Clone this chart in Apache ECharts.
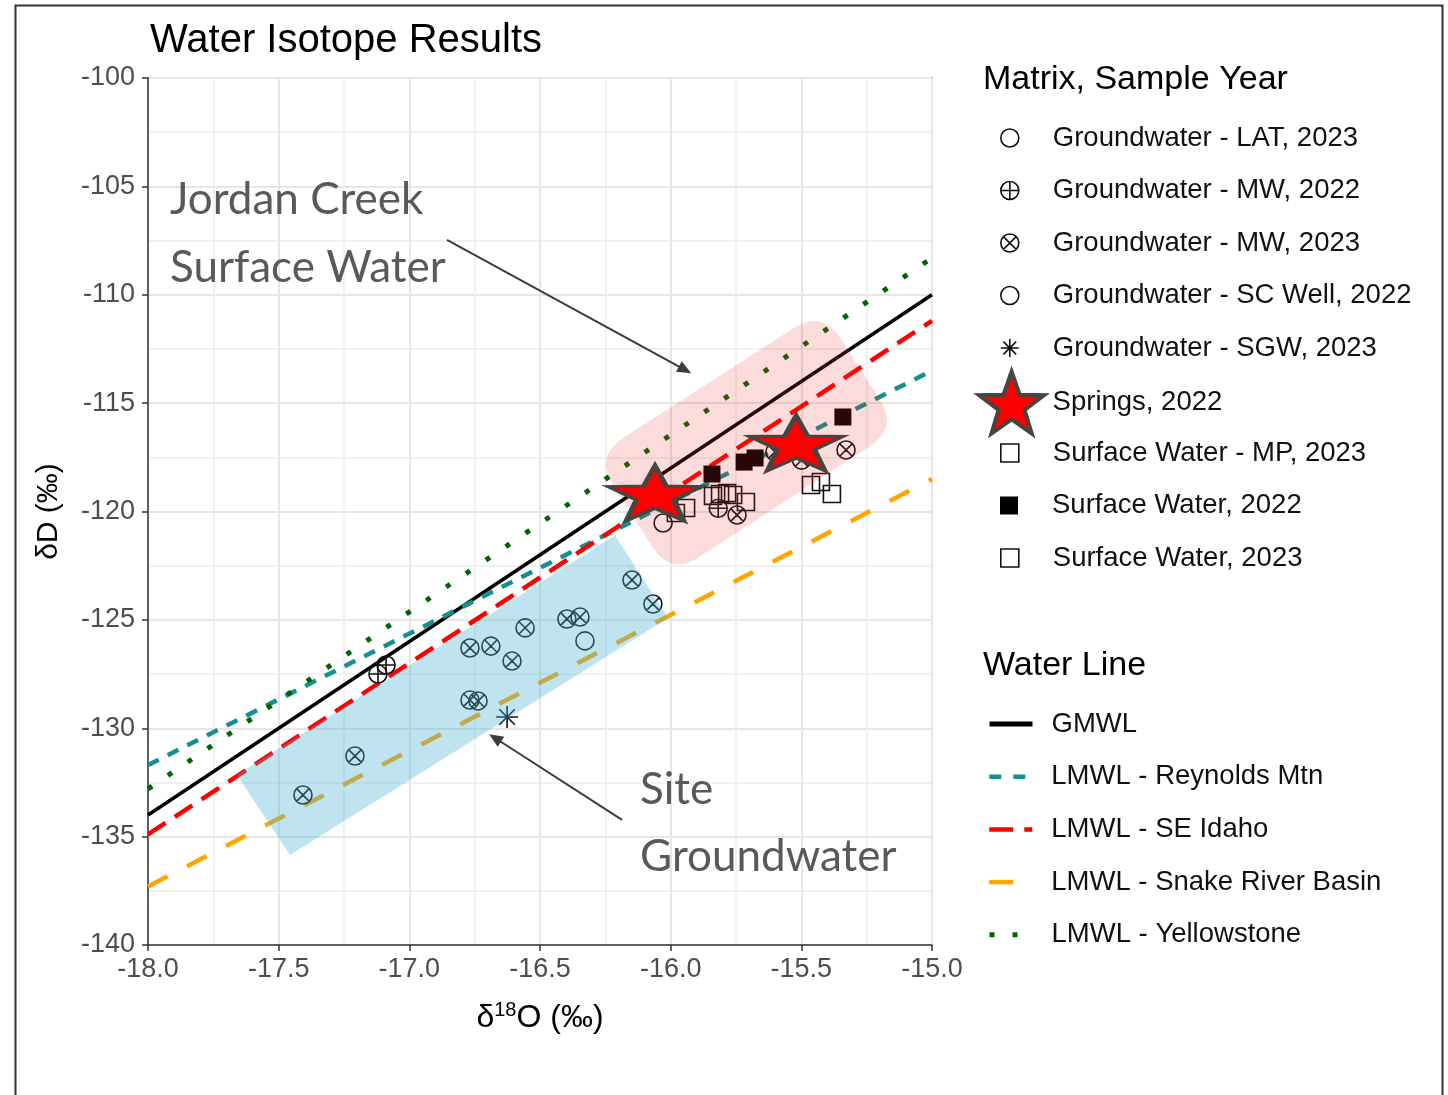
<!DOCTYPE html>
<html><head><meta charset="utf-8">
<script src="https://cdn.jsdelivr.net/npm/echarts@6/dist/echarts.min.js"></script>
<style>html,body{margin:0;padding:0;background:#fff}#c{width:1448px;height:1095px}</style>
</head><body><div id="c"></div>
<script>
// ---------------- DATA ----------------
const xEnds = [-18, -15];                 // δ18O at the ends of each water line
const gmwl        = [-134.0, -110.0];     // δD at xEnds
const reynoldsMtn = [-131.7, -113.5];
const seIdaho     = [-134.9, -111.2];
const snakeRiver  = [-137.3, -118.5];
const yellowstone = [-132.8, -108.3];

const gwLAT2023 = [[-16.328, -125.97]];
const gwMW2022  = [[-17.120, -127.50], [-17.089, -127.08], [-15.818, -119.85]];
const gwMW2023  = [[-17.407, -133.08], [-17.208, -131.28], [-16.768, -126.30], [-16.688, -126.21],
                   [-16.607, -126.90], [-16.557, -125.37], [-16.768, -128.70], [-16.737, -128.74],
                   [-16.397, -124.96], [-16.347, -124.87], [-16.148, -123.16], [-16.068, -124.27],
                   [-15.746, -120.16], [-15.329, -117.16], [-15.499, -117.63], [-15.601, -117.25]];
const gwSC2022  = [[-16.029, -120.53]];
const gwSGW2023 = [[-16.626, -129.48]];
const springs2022 = [[-16.060, -119.15], [-15.520, -116.84]];
const swMP2023  = [[-15.941, -119.84], [-15.980, -120.07], [-15.838, -119.28], [-15.811, -119.19],
                   [-15.784, -119.15], [-15.761, -119.24], [-15.712, -119.56]];
const sw2022    = [[-15.842, -118.27], [-15.719, -117.72], [-15.677, -117.53], [-15.341, -115.64]];
const sw2023    = [[-15.463, -118.78], [-15.425, -118.64], [-15.383, -119.19]];

const xTicks = [-18, -15, 0.5];
const yTicks = [-140, -100, 5];

// annotation regions and labels, in data units
const siteGWBox     = [[-17.660, -132.16], [-16.213, -121.09], [-16.010, -124.91], [-17.457, -135.85]];
const jordanCreekBox = [[-16.290, -117.45], [-15.420, -110.70], [-15.130, -116.15], [-16.000, -122.95]];
const annotationText = [
  ['Jordan Creek', -17.916, -105.63], ['Surface Water', -17.916, -108.77],
  ['Site', -16.117, -132.85], ['Groundwater', -16.117, -135.94]];
const arrows = [[[-16.856, -107.47], [-15.945, -113.47]], [[-16.186, -134.23], [-16.672, -130.45]]];

const symbolNames = ['Groundwater - LAT, 2023', 'Groundwater - MW, 2022', 'Groundwater - MW, 2023',
  'Groundwater - SC Well, 2022', 'Groundwater - SGW, 2023', 'Springs, 2022',
  'Surface Water - MP, 2023', 'Surface Water, 2022', 'Surface Water, 2023'];
const lineNames = ['GMWL', 'LMWL - Reynolds Mtn', 'LMWL - SE Idaho', 'LMWL - Snake River Basin', 'LMWL - Yellowstone'];

// ---------------- STYLE ----------------
const FONT = "'Liberation Sans', Arial, sans-serif";
const C = 'M10,0A10,10,0,1,1,10,20A10,10,0,1,1,10,0Z';
const SYM = {
  circle: 'path://' + C,
  cplus: 'path://' + C + 'M10,0L10,20M0,10L20,10',
  ccross: 'path://' + C + 'M2.93,2.93L17.07,17.07M17.07,2.93L2.93,17.07',
  square: 'path://M0,0L20,0L20,20L0,20Z',
  aster: 'path://M10,0L10,20M0,10L20,10M2.93,2.93L17.07,17.07M17.07,2.93L2.93,17.07'
};
SYM.star = (function () {
  let s = 'path://';
  for (let i = 0; i < 10; i++) {
    const r = i % 2 ? 20 : 50, a = (-90 + 36 * i) * Math.PI / 180;
    s += (i ? 'L' : 'M') + (50 + r * Math.cos(a)).toFixed(2) + ',' + (50 + r * Math.sin(a)).toFixed(2);
  }
  return s + 'Z';
})();

const hollow = { color: 'rgba(0,0,0,0)', borderColor: '#111', borderWidth: 1.6, opacity: 1 };
function pts(name, data, symbol, size, style, z) {
  return { type: 'scatter', name, data, symbol, symbolSize: size, itemStyle: Object.assign({ opacity: 1 }, style), z: z || 3,
           emphasis: { disabled: true }, silent: true };
}
function wline(name, ends, color, width, dash) {
  return { type: 'line', name, data: [[xEnds[0], ends[0]], [xEnds[1], ends[1]]], symbol: 'none', showSymbol: false, z: 2,
           itemStyle: { color, opacity: 0 },
           lineStyle: { color, width, type: dash, cap: 'butt' }, emphasis: { disabled: true }, silent: true };
}
function rounded(p, r) {
  const out = [];
  for (let i = 0; i < p.length; i++) {
    const p0 = p[(i + p.length - 1) % p.length], p1 = p[i], p2 = p[(i + 1) % p.length];
    const d0 = Math.hypot(p0[0] - p1[0], p0[1] - p1[1]), d2 = Math.hypot(p2[0] - p1[0], p2[1] - p1[1]);
    const a = [p1[0] + (p0[0] - p1[0]) * r / d0, p1[1] + (p0[1] - p1[1]) * r / d0];
    const b = [p1[0] + (p2[0] - p1[0]) * r / d2, p1[1] + (p2[1] - p1[1]) * r / d2];
    for (let k = 0; k <= 10; k++) {
      const t = k / 10, u = 1 - t;
      out.push([u * u * a[0] + 2 * u * t * p1[0] + t * t * b[0], u * u * a[1] + 2 * u * t * p1[1] + t * t * b[1]]);
    }
  }
  return out;
}
function box(corners, fill, radius) {
  return { type: 'custom', name: '', data: [corners[0]], z: 4, silent: true,
    renderItem: function (params, api) {
      const p = corners.map(c => api.coord(c));
      return { type: 'polygon', shape: { points: radius ? rounded(p, radius) : p }, style: { fill } };
    } };
}

const series = [
  wline(lineNames[0], gmwl, '#000000', 3.5, 'solid'),
  wline(lineNames[1], reynoldsMtn, '#14908e', 4.5, [12, 10]),
  wline(lineNames[2], seIdaho, '#ff0000', 4.5, [21, 11]),
  wline(lineNames[3], snakeRiver, '#ffa500', 4.5, [22, 22]),
  wline(lineNames[4], yellowstone, '#006400', 5, [5, 19]),
  pts(symbolNames[0], gwLAT2023, SYM.circle, 18, hollow),
  pts(symbolNames[1], gwMW2022, SYM.cplus, 18, hollow),
  pts(symbolNames[2], gwMW2023, SYM.ccross, 18, hollow),
  pts(symbolNames[3], gwSC2022, SYM.circle, 18, hollow),
  pts(symbolNames[4], gwSGW2023, SYM.aster, 22, hollow),
  pts(symbolNames[6], swMP2023, SYM.square, 17, hollow),
  pts(symbolNames[7], sw2022, SYM.square, 17, { color: '#000' }),
  pts(symbolNames[8], sw2023, SYM.square, 17, hollow),
  box(siteGWBox, 'rgba(80,180,210,0.36)', 0),
  box(jordanCreekBox, 'rgba(240,40,40,0.17)', 34),
  pts(symbolNames[5], springs2022, SYM.star, [93, 55], { color: '#ff0000', borderColor: '#48443f', borderWidth: 4 }, 5),
  { type: 'scatter', name: '', data: [], z: 6, silent: true,
    markLine: { silent: true, animation: false, symbol: ['none', 'triangle'], symbolSize: [12, 14],
      label: { show: false }, emphasis: { disabled: true },
      itemStyle: { color: '#3c3c3c', opacity: 1 },
      lineStyle: { color: '#3c3c3c', width: 2, type: 'solid', opacity: 1 },
      data: arrows.map(a => [{ coord: a[0] }, { coord: a[1] }]) } }
];

// legends: one per row
const legends = [];
const legendText = { fontFamily: FONT, fontSize: 27.5, color: '#111', lineHeight: 30 };
symbolNames.forEach((n, i) => {
  const y = 138 + i * 52.5;
  const star = n === 'Springs, 2022';
  const iw = star ? 72 : 76, ih = star ? 62 : 18;
  legends.push({ orient: 'vertical', left: star ? 977 : 1000, top: y - Math.max(ih, 30) / 2, padding: 0,
    itemWidth: iw, itemHeight: ih, selectedMode: false, data: [n], textStyle: legendText,
    itemStyle: { borderWidth: star ? 4 : 1.6, opacity: 1 } });
});
const lineLegendStyle = [
  { color: '#000', width: 5, type: 'solid' }, { color: '#14908e', width: 4.5, type: [12, 12] },
  { color: '#ff0000', width: 4.5, type: [24, 11] }, { color: '#ffa500', width: 4.5, type: [24, 30] },
  { color: '#006400', width: 5, type: [5, 18] }];
lineNames.forEach((n, i) => {
  const y = 724 + i * 52.7;
  legends.push({ orient: 'vertical', left: 987, top: y - 15, padding: 0, itemWidth: 43, itemHeight: 18,
    selectedMode: false, data: [n], textStyle: Object.assign({ padding: [0, 0, 0, 14] }, legendText),
    itemStyle: { opacity: 0 },
    lineStyle: Object.assign({ cap: 'butt', opacity: 1 }, lineLegendStyle[i]) });
});

const chart = echarts.init(document.getElementById('c'), null, { renderer: 'canvas' });
chart.setOption({
  animation: false,
  backgroundColor: '#fff',
  title: [
    { text: 'Water Isotope Results', left: 150, top: 21, padding: 0,
      textStyle: { fontFamily: FONT, fontSize: 40, fontWeight: 'normal', color: '#000', lineHeight: 40 } },
    { text: 'Matrix, Sample Year', left: 983, top: 63, padding: 0,
      textStyle: { fontFamily: FONT, fontSize: 34, fontWeight: 'normal', color: '#000', lineHeight: 34 } },
    { text: 'Water Line', left: 983, top: 649, padding: 0,
      textStyle: { fontFamily: FONT, fontSize: 34, fontWeight: 'normal', color: '#000', lineHeight: 34 } }
  ],
  legend: legends,
  grid: { left: 148, right: 516, top: 78, bottom: 150, show: true, borderColor: '#333', borderWidth: 1.5,
          backgroundColor: 'transparent', outerBoundsMode: 'none', containLabel: false },
  xAxis: { type: 'value', min: xTicks[0], max: xTicks[1], interval: xTicks[2],
    name: '{d|δ}{s|18}{d|O (‰)}', nameLocation: 'middle', nameGap: 55,
    nameTextStyle: { fontFamily: FONT, color: '#000', fontSize: 32,
      rich: { d: { fontFamily: FONT, fontSize: 32, color: '#000' },
              s: { fontFamily: FONT, fontSize: 20, color: '#000', padding: [0, 0, 16, 0] } } },
    axisLine: { show: true, onZero: false, lineStyle: { color: '#333', width: 1.5 } },
    axisTick: { show: true, length: 6, lineStyle: { color: '#333', width: 1.5 } },
    axisLabel: { fontFamily: FONT, fontSize: 27, color: '#4d4d4d', margin: 11, formatter: v => v.toFixed(1) },
    splitLine: { show: true, lineStyle: { color: '#e6e6e6', width: 2 } },
    minorTick: { show: false, splitNumber: 2 },
    minorSplitLine: { show: true, lineStyle: { color: '#ededed', width: 1.5 } } },
  yAxis: { type: 'value', min: yTicks[0], max: yTicks[1], interval: yTicks[2],
    name: 'δD (‰)', nameLocation: 'middle', nameGap: 84,
    nameTextStyle: { fontFamily: FONT, color: '#000', fontSize: 30 },
    axisLine: { show: true, onZero: false, lineStyle: { color: '#333', width: 1.5 } },
    axisTick: { show: true, length: 6, lineStyle: { color: '#333', width: 1.5 } },
    axisLabel: { fontFamily: FONT, fontSize: 27, color: '#4d4d4d', margin: 13 },
    splitLine: { show: true, lineStyle: { color: '#e6e6e6', width: 2 } },
    minorTick: { show: false, splitNumber: 2 },
    minorSplitLine: { show: true, lineStyle: { color: '#ededed', width: 1.5 } } },
  series
});

const g = [{ type: 'rect', left: 13, top: 3, shape: { width: 1427, height: 1110 }, silent: true, z: 100,
             style: { fill: 'none', stroke: '#333', lineWidth: 2 } }];
annotationText.forEach(a => {
  const p = chart.convertToPixel({ gridIndex: 0 }, [a[1], a[2]]);
  g.push({ type: 'text', x: p[0], y: p[1], z: 100, silent: true,
    style: { text: a[0], fontFamily: 'Lato', fontSize: 44, fill: '#595959', verticalAlign: 'middle', align: 'left' } });
});
chart.setOption({ graphic: g });
</script></body></html>
